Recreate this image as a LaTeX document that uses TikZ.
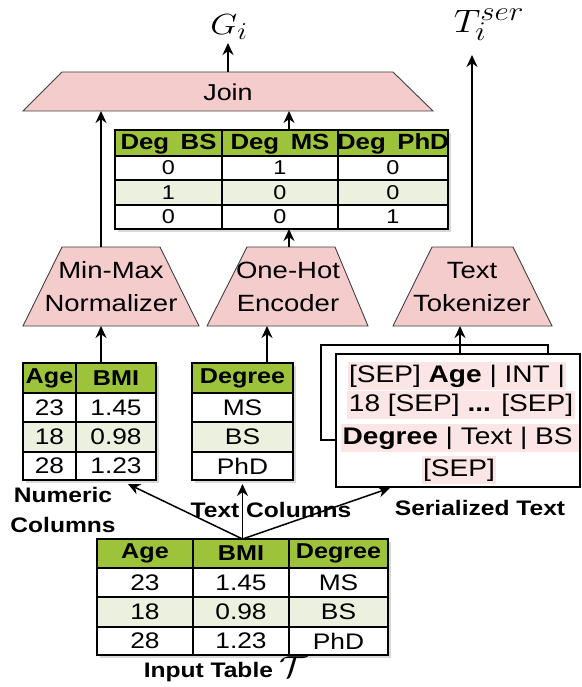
\RequirePackage{fix-cm}
\documentclass[tikz,border=0pt]{standalone}
\usepackage{fontspec}
\setmainfont{Liberation Sans}
\usetikzlibrary{arrows.meta,shadows}
\definecolor{hdr}{HTML}{9DC33B}
\definecolor{alt}{HTML}{EBF1DE}
\definecolor{trap}{HTML}{F4CCCC}
\definecolor{hl}{HTML}{FBE5E5}
\newcommand\sx[1]{\scalebox{1.17}[1]{#1}}
\tikzset{
  arr/.style={line width=1.5pt,-{Stealth[length=12pt,width=11pt]}},
  trapz/.style={fill=trap,draw=black!75,line width=0.9pt},
  gridln/.style={line width=1.2pt},
  outerln/.style={line width=2.8pt},
  tblbox/.style={fill=white,inner sep=0pt,outer sep=0pt,
    drop shadow={opacity=0.3,shadow xshift=3pt,shadow yshift=-3pt}},
  cell/.style={inner sep=0pt,font=\fontsize{22.5}{24}\selectfont},
  scell/.style={inner sep=0pt,font=\fontsize{20}{22}\selectfont},
  hcell/.style={inner sep=0pt,font=\fontsize{21.5}{24}\selectfont\bfseries},
  lbl/.style={inner sep=0pt,font=\fontsize{21}{30}\selectfont\bfseries,align=center},
  tz/.style={inner sep=0pt,font=\fontsize{23.5}{33}\selectfont,align=center},
  hline/.style={fill=hl,inner xsep=1.5pt,inner ysep=0pt,minimum height=28pt,
    font=\fontsize{24}{28}\selectfont},
  mathlbl/.style={inner sep=0pt,font=\fontsize{24.88}{26}\selectfont},
}
\begin{document}
\begin{tikzpicture}[x=1pt,y=-1pt]
\useasboundingbox (0,0) rectangle (581,687);

% ---------- Join ----------
\draw[trapz] (62,72) -- (393,72) -- (433,111) -- (23,111) -- cycle;
\node[tz,font=\fontsize{23}{26}\selectfont] (join) at (228,92) {\sx{Join}};
\coordinate (joinT) at (228,72);
\coordinate (joinB1) at (101,111);
\coordinate (joinB2) at (289,111);
\node[mathlbl] (gi) at (229,27) {\scalebox{1.4}[1.17]{$G_i$}};
\coordinate (gtip) at (228,43);
\draw[arr] (joinT) -- (gtip);

% ---------- T_i^ser ----------
\node[mathlbl] (tser) at (489,25) {\scalebox{1.5}[1.3]{$T_i^{ser}$}};
\coordinate (ttip) at (472,55);

% ---------- Trapezoids ----------
\draw[trapz] (62,247) -- (160,247) -- (199,326) -- (23,326) -- cycle;
\node[tz] (mm) at (111,287) {\sx{Min-Max}\\\sx{Normalizer}};
\coordinate (mmT) at (101,247);
\coordinate (mmB) at (101,326);

\draw[trapz] (247,247) -- (335,247) -- (368,326) -- (207,326) -- cycle;
\node[tz] (oh) at (288,287) {\sx{One-Hot}\\\sx{Encoder}};
\coordinate (ohT) at (289,247);
\coordinate (ohB) at (267,326);

\draw[trapz] (432,247) -- (513,247) -- (552,326) -- (393,326) -- cycle;
\node[tz] (tt) at (472,287) {\sx{Text}\\\sx{Tokenizer}};
\coordinate (ttT) at (472,247);
\coordinate (ttB) at (460,326);

% ---------- One-hot output table ----------
\node[tblbox,minimum width=333pt,minimum height=99pt] (tdeg) at (281.5,179.5) {};
\fill[hdr] (115,130) rectangle (448,156);
\fill[alt] (115,180) rectangle (448,205);
\draw[gridln] (222,130) -- (222,229) (338,130) -- (338,229)
  (115,156) -- (448,156) (115,180) -- (448,180) (115,205) -- (448,205);
\draw[outerln] (115,130) rectangle (448,229);
\node[hcell,font=\fontsize{22}{24}\selectfont\bfseries] (dh1) at (168.5,144) {\sx{Deg\hspace{0.45em}BS}};
\node[hcell,font=\fontsize{22}{24}\selectfont\bfseries] (dh2) at (280,144) {\sx{Deg\hspace{0.45em}MS}};
\node[hcell,font=\fontsize{22}{24}\selectfont\bfseries] (dh3) at (393,144) {\sx{Deg\hspace{0.45em}PhD}};
\foreach \a/\b/\c/\y [count=\r] in {0/1/0/168, 1/0/0/192.5, 0/0/1/217}{
  \node[scell] (d\r a) at (168.5,\y) {\sx{\a}};
  \node[scell] (d\r b) at (280,\y) {\sx{\b}};
  \node[scell] (d\r c) at (393,\y) {\sx{\c}};
}
\coordinate (tdegT) at (289,130);
\coordinate (tdegB) at (289,229);

% ---------- Numeric columns table ----------
\node[tblbox,minimum width=133pt,minimum height=117pt] (tnum) at (89.5,421.5) {};
\fill[hdr] (23,363) rectangle (156,393);
\fill[alt] (23,422) rectangle (156,452);
\draw[gridln] (76,363) -- (76,480)
  (23,393) -- (156,393) (23,422) -- (156,422) (23,452) -- (156,452);
\draw[outerln] (23,363) rectangle (156,480);
\node[hcell] (nh1) at (49.5,378) {\sx{Age}};
\node[hcell] (nh2) at (116,378) {\sx{BMI}};
\foreach \a/\b/\y [count=\r] in {23/1.45/407.5, 18/0.98/437, 28/1.23/466}{
  \node[cell] (n\r a) at (49.5,\y) {\sx{\a}};
  \node[cell] (n\r b) at (116,\y) {\sx{\b}};
}
\coordinate (tnumT) at (101,363);
\coordinate (tnumB) at (128,484);

% ---------- Text columns table ----------
\node[tblbox,minimum width=101pt,minimum height=117pt] (ttxt) at (242.5,421.5) {};
\fill[hdr] (192,363) rectangle (293,393);
\fill[alt] (192,422) rectangle (293,452);
\draw[gridln] (192,393) -- (293,393) (192,422) -- (293,422) (192,452) -- (293,452);
\draw[outerln] (192,363) rectangle (293,480);
\node[hcell] (th1) at (242.5,378) {\sx{Degree}};
\foreach \a/\y [count=\r] in {MS/407.5, BS/437, PhD/466}{
  \node[cell] (t\r) at (242.5,\y) {\sx{\a}};
}
\coordinate (ttxtT) at (267,363);
\coordinate (ttxtB) at (242.5,484);

% ---------- Serialized text ----------
\draw[line width=1.3pt,fill=white] (321,345) rectangle (548,440);
\node[draw,line width=1.3pt,fill=white,inner sep=0pt,outer sep=0pt,
  minimum width=244pt,minimum height=133pt] (ser) at (458,420.5) {};
\node[hline] (s1) at (457,376) {\sx{[SEP] \textbf{Age} | INT |}};
\node[hline] (s2) at (461,405) {\sx{18 [SEP] \textbf{...} [SEP]}};
\node[hline] (s3) at (460,438) {\sx{\textbf{Degree} | Text | BS\,}};
\node[hline] (s4) at (459,470) {\sx{[SEP]}};
\coordinate (serT) at (460,354);
\coordinate (serB) at (390,488);

% ---------- Input table ----------
\node[tblbox,minimum width=291pt,minimum height=116pt] (tin) at (242.5,597) {};
\fill[hdr] (97,539) rectangle (388,568);
\fill[alt] (97,597) rectangle (388,627);
\draw[gridln] (193,539) -- (193,655) (289,539) -- (289,655)
  (97,568) -- (388,568) (97,597) -- (388,597) (97,627) -- (388,627);
\draw[outerln] (97,539) rectangle (388,655);
\node[hcell] (ih1) at (145,553.5) {\sx{Age}};
\node[hcell] (ih2) at (241,553.5) {\sx{BMI}};
\node[hcell] (ih3) at (338.5,553.5) {\sx{Degree}};
\foreach \a/\b/\c/\y [count=\r] in {23/1.45/MS/582.5, 18/0.98/BS/612, 28/1.23/PhD/641}{
  \node[cell] (i\r a) at (145,\y) {\sx{\a}};
  \node[cell] (i\r b) at (241,\y) {\sx{\b}};
  \node[cell] (i\r c) at (338.5,\y) {\sx{\c}};
}
\coordinate (tinT) at (242.5,539);

% ---------- Labels ----------
\node[lbl] (numlbl) at (63,510) {\sx{Numeric}\\\sx{Columns}};
\node[lbl] (txtlbl) at (271,510) {\sx{Text Columns}};
\node[lbl] (serlbl) at (480,508) {\sx{Serialized Text}};
\node[lbl] (inlbl) at (226,669) {\sx{Input Table \scalebox{1.45}{$\mathcal{T}$}}};

% ---------- Arrows ----------
\draw[arr] (mmT) -- (joinB1);
\draw[arr] (tdegT) -- (joinB2);
\draw[arr] (ohT) -- (tdegB);
\draw[arr] (ttT) -- (ttip);
\draw[arr] (tnumT) -- (mmB);
\draw[arr] (ttxtT) -- (ohB);
\draw[arr] (serT) -- (ttB);
\draw[arr] (tinT) -- (tnumB);
\draw[arr] (tinT) -- (ttxtB);
\draw[arr] (tinT) -- (serB);
\end{tikzpicture}
\end{document}
